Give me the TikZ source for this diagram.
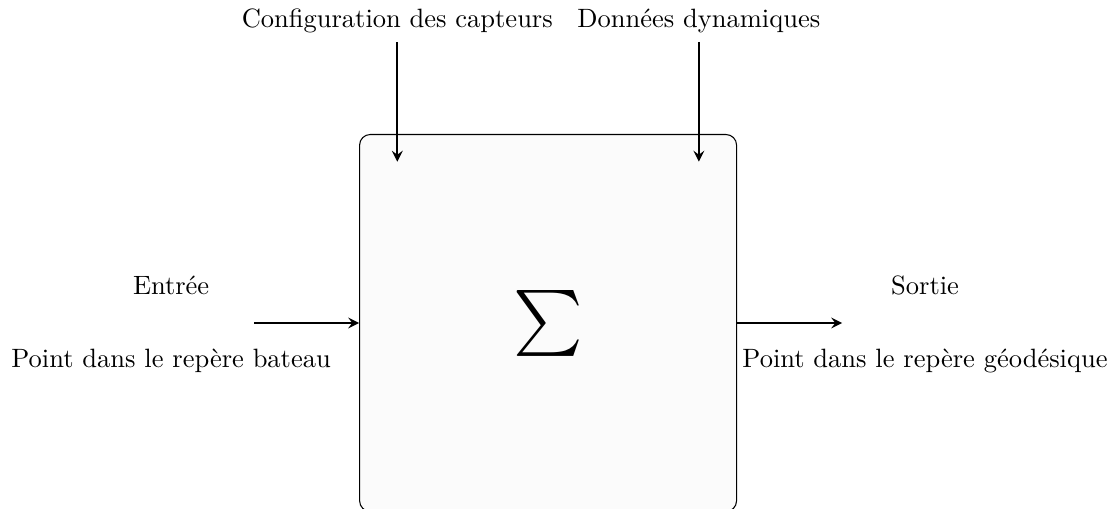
\documentclass[tikz,border=0pt]{standalone}
\usepackage{amsmath}
\usepackage{tikz}
\usetikzlibrary{arrows.meta, positioning}

\begin{document}
\begin{tikzpicture}[
    system/.style={
        rectangle,
        rounded corners=4pt,
        draw,
        fill=gray!3,
        minimum width=5cm,
        minimum height=5cm,
        inner sep=0pt
    },
    arrow/.style={
        -stealth,
        thick
    },
    tag/.style={
        align=center
    }
]
\useasboundingbox (-7.27,-2.467) rectangle (7.533,4.284);

% === System ===
\node[system] (sys) at (0,0) {\Huge $\sum$};

% === Input ===
\coordinate (in) at (-3.9,0);
\node[tag] (entree) at (-5,0.5) {Entrée};
\node[tag] (pointbateau) at (-5,-0.5) {Point dans le repère bateau};

% === Output ===
\coordinate (out) at (3.9,0);
\node[tag] (sortie) at (5,0.5) {Sortie};
\node[tag] (pointgeo) at (5,-0.5) {Point dans le repère géodésique};

% === Parameters ===
\node[tag] (capteurs) at (-2,4.01) {Configuration des capteurs};
\node[tag] (donnees) at (2,4.01) {Données dynamiques};
\coordinate (confend) at (-2,2.14);
\coordinate (dynend) at (2,2.14);

% === Arrows ===
\draw[arrow] (in) -- (sys.west);
\draw[arrow] (sys.east) -- (out);
\draw[arrow] (capteurs.south) -- (confend);
\draw[arrow] (donnees.south) -- (dynend);
\end{tikzpicture}
\end{document}
